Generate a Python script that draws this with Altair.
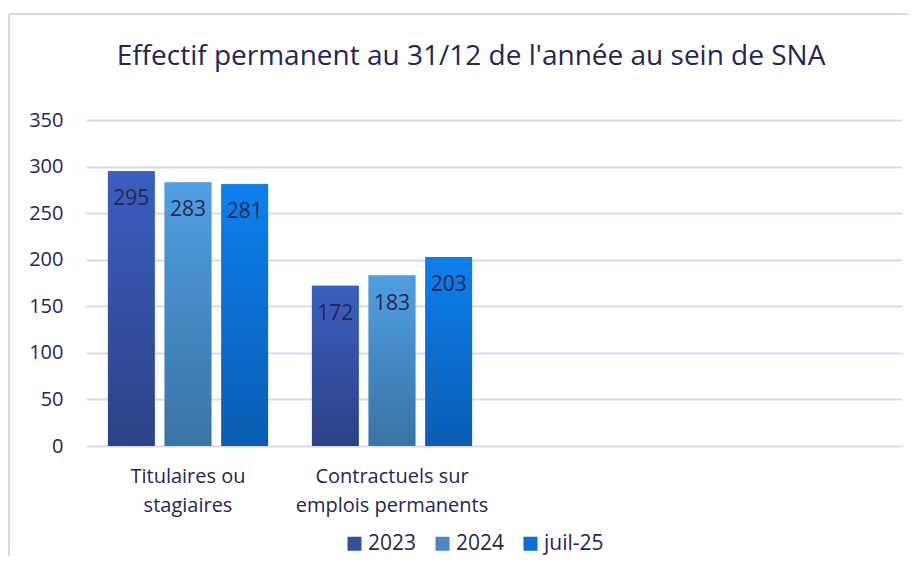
import altair as alt
import pandas as pd

# ---- data ----
categories = ["Titulaires ou stagiaires", "Contractuels sur emplois permanents"]
category_lines = [["Titulaires ou", "stagiaires"], ["Contractuels sur", "emplois permanents"]]
empty_slots = ["slot3", "slot4"]
series = ["2023", "2024", "juil-25"]
values_2023 = [295, 172]
values_2024 = [283, 183]
values_juil25 = [281, 203]
y_ticks = [0, 50, 100, 150, 200, 250, 300, 350]
title_text = "Effectif permanent au 31/12 de l'année au sein de SNA"

# ---- styles ----
FONT = "Open Sans"
TXT = "#262654"
GRID = "#d9d9ee"
solid = ["#33509f", "#4588c4", "#0b6ed2"]
grad_stops = {
    "2023": ("#3b5fc0", "#2c4185"),
    "2024": ("#4f9fe2", "#3a73a6"),
    "juil-25": ("#0b80ee", "#0b5db3"),
}

rows = []
for s, vals in zip(series, [values_2023, values_2024, values_juil25]):
    for c, v in zip(categories, vals):
        rows.append({"cat": c, "series": s, "value": v})
df = pd.DataFrame(rows)

label_expr = " : ".join(
    f"datum.value == '{c}' ? {lines!r}" for c, lines in zip(categories, category_lines)
) + " : ''"

x_enc = alt.X(
    "cat:N",
    scale=alt.Scale(domain=categories + empty_slots, paddingInner=0.215, paddingOuter=0.1075),
    axis=alt.Axis(
        title=None, labelExpr=label_expr, labelAngle=0, ticks=False, domain=False,
        labelPadding=20, labelFontSize=20, labelLineHeight=29, labelColor=TXT,
        labelFont=FONT, grid=False, labelLimit=400,
    ),
)
xo_enc = alt.XOffset("series:N", scale=alt.Scale(domain=series, paddingInner=0.176, paddingOuter=0))
y_enc = alt.Y(
    "value:Q",
    scale=alt.Scale(domain=[0, 350], nice=False),
    axis=alt.Axis(
        title=None, values=y_ticks, ticks=False, domain=False, labelPadding=23,
        labelFontSize=20, labelColor=TXT, labelFont=FONT, gridColor=GRID, gridWidth=2,
    ),
)

base = alt.Chart(df)

bars = base.mark_bar().encode(
    x=x_enc, xOffset=xo_enc, y=y_enc,
    color=alt.Color(
        "series:N",
        scale=alt.Scale(domain=series, range=solid),
        legend=alt.Legend(
            title=None, orient="none", direction="horizontal", legendX=258, legendY=413,
            symbolType="square", symbolSize=196, symbolStrokeWidth=0, labelFontSize=21,
            labelColor=TXT, labelFont=FONT, columnPadding=15, labelOffset=3, padding=0,
        ),
    ),
)

grad_layers = []
for s in series:
    top, bottom = grad_stops[s]
    g = alt.Gradient(
        gradient="linear",
        stops=[alt.GradientStop(color=top, offset=0), alt.GradientStop(color=bottom, offset=1)],
        x1=0, x2=0, y1=0, y2=1,
    )
    grad_layers.append(
        base.transform_filter(alt.datum.series == s)
        .mark_bar(fill=g)
        .encode(x=x_enc, xOffset=xo_enc, y=y_enc)
    )

labels = base.mark_text(baseline="middle", dy=28, fontSize=21, font=FONT, color=TXT).encode(
    x=x_enc, xOffset=xo_enc, y=y_enc, text="value:Q"
)

frame_df = pd.DataFrame({"k": [0]})
frame_left = alt.Chart(frame_df).mark_rule(color=GRID, strokeWidth=2).encode(
    x=alt.value(-77), y=alt.value(-106), y2=alt.value(436)
)
frame_top = alt.Chart(frame_df).mark_rule(color=GRID, strokeWidth=2).encode(
    x=alt.value(-77), x2=alt.value(822), y=alt.value(-106)
)
title_mark = alt.Chart(pd.DataFrame({"t": [title_text]})).mark_text(
    font=FONT, fontSize=28, color=TXT, align="center", baseline="alphabetic"
).encode(text="t:N", x=alt.value(385), y=alt.value(-55))

chart = (
    alt.layer(frame_left, frame_top, title_mark, bars, *grad_layers, labels)
    .properties(
        width=816, height=326,
        padding={"left": 0, "top": 5, "right": 0, "bottom": 0},
    )
    .configure(background="white")
    .configure_view(strokeWidth=0, stroke="transparent")
)

chart.save("out.html", embed_options={"renderer": "svg", "actions": False})
